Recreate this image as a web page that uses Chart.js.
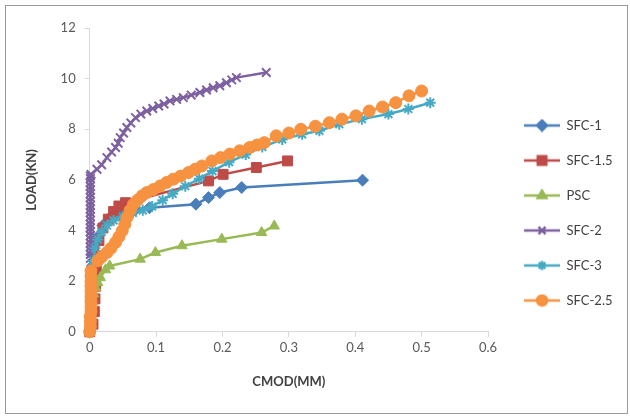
<!DOCTYPE html>
<html>
<head>
<meta charset="utf-8">
<script src="https://cdn.jsdelivr.net/npm/chart.js@4/dist/chart.umd.min.js"></script>
<style>
  body { margin: 0; background: #fff; }
  #wrap { position: relative; width: 630px; height: 419px; }
  #frame { position: absolute; left: 5px; top: 5px; width: 621px; height: 407px; border: 1px solid #9a9a9a; pointer-events: none; }
</style>
</head>
<body>
<div id="wrap">
  <canvas id="load-chart" width="630" height="419"></canvas>
  <div id="frame"></div>
</div>
<script>
// series names, same order as the legend
var seriesNames = ["SFC-1", "SFC-1.5", "PSC", "SFC-2", "SFC-3", "SFC-2.5"];

// CMOD (mm) / LOAD (kN)
var sfc1X = [0, 0.001, 0.002, 0.003, 0.004, 0.005, 0.01, 0.02, 0.03, 0.045, 0.07, 0.09, 0.16, 0.179, 0.196, 0.229, 0.411];
var sfc1Y = [0, 0.6, 1.3, 2.0, 2.6, 3.0, 3.7, 4.2, 4.5, 4.7, 4.85, 4.9, 5.04, 5.3, 5.5, 5.7, 5.99];

var sfc15X = [0, 0.005, 0.007, 0.008, 0.009, 0.01, 0.011, 0.014, 0.02, 0.028, 0.036, 0.044, 0.054, 0.179, 0.201, 0.251, 0.298];
var sfc15Y = [0, 0.3, 0.8, 1.3, 1.8, 2.4, 3.0, 3.6, 4.1, 4.45, 4.75, 4.97, 5.1, 5.96, 6.22, 6.49, 6.75];

var pscX = [0, 0.001, 0.002, 0.004, 0.006, 0.009, 0.012, 0.016, 0.024, 0.03, 0.076, 0.099, 0.139, 0.199, 0.259, 0.278];
var pscY = [0, 0.4, 0.8, 1.2, 1.5, 1.75, 1.95, 2.14, 2.45, 2.6, 2.87, 3.13, 3.40, 3.66, 3.92, 4.18];

var sfc2X = [0, 0, 0, 0.001, 0.001, 0.001, 0.001, 0.001, 0.001, 0.001, 0.001, 0.001, 0.001, 0.001, 0.001, 0.001, 0.001,
             0.001, 0.001, 0.001, 0.001, 0.001, 0.001, 0.001, 0.001, 0.001, 0.002,
             0.011, 0.018, 0.026, 0.033, 0.039, 0.043, 0.046, 0.051, 0.056, 0.062, 0.069, 0.077, 0.086, 0.095,
             0.104, 0.112, 0.121, 0.131, 0.141, 0.153, 0.166, 0.176, 0.186, 0.196, 0.206, 0.214, 0.221, 0.266];
var sfc2Y = [0, 1.0, 2.0, 2.9, 3.05, 3.2, 3.35, 3.5, 3.65, 3.8, 3.95, 4.1, 4.25, 4.4, 4.55, 4.7, 4.85,
             5.0, 5.15, 5.3, 5.45, 5.6, 5.75, 5.9, 6.05, 6.15, 6.22,
             6.42, 6.6, 6.88, 7.1, 7.28, 7.45, 7.67, 7.85, 8.07, 8.25, 8.46, 8.6, 8.72, 8.82,
             8.92, 9.0, 9.12, 9.18, 9.25, 9.35, 9.45, 9.55, 9.64, 9.72, 9.84, 9.95, 10.04, 10.24];

var sfc3X = [0, 0.001, 0.002, 0.003, 0.005, 0.008, 0.012, 0.018, 0.026, 0.036, 0.05, 0.065, 0.08, 0.094, 0.11, 0.125,
             0.144, 0.165, 0.185, 0.21, 0.235, 0.26, 0.29, 0.32, 0.346, 0.376, 0.41, 0.45, 0.48, 0.513];
var sfc3Y = [0, 0.7, 1.4, 2.1, 2.8, 3.3, 3.65, 3.95, 4.2, 4.4, 4.55, 4.7, 4.8, 4.95, 5.2, 5.45,
             5.75, 6.05, 6.35, 6.7, 7.0, 7.3, 7.6, 7.8, 7.94, 8.2, 8.4, 8.6, 8.8, 9.05];

var sfc25X = [0, 0.001, 0.001, 0.001, 0.002, 0.002, 0.002, 0.002, 0.002, 0.002, 0.002, 0.002, 0.002,
              0.012, 0.018, 0.026, 0.032, 0.039, 0.044, 0.049, 0.053, 0.056, 0.061, 0.066, 0.072, 0.079, 0.086,
              0.096, 0.106, 0.116, 0.126, 0.137, 0.149, 0.159, 0.169, 0.184, 0.197, 0.211, 0.226, 0.241, 0.252,
              0.263, 0.281, 0.30, 0.318, 0.34, 0.361, 0.38, 0.401, 0.421, 0.441, 0.461, 0.481, 0.50];
var sfc25Y = [0, 0.2, 0.4, 0.6, 0.8, 1.0, 1.2, 1.4, 1.6, 1.8, 2.0, 2.2, 2.41,
              2.80, 2.95, 3.13, 3.3, 3.53, 3.75, 3.99, 4.25, 4.51, 4.8, 5.04, 5.2, 5.37, 5.50,
              5.62, 5.76, 5.9, 6.03, 6.15, 6.29, 6.42, 6.55, 6.75, 6.88, 7.02, 7.15, 7.28, 7.38,
              7.47, 7.74, 7.85, 8.0, 8.12, 8.26, 8.4, 8.53, 8.72, 8.88, 9.05, 9.32, 9.51];

var xTicks = [0, 0.1, 0.2, 0.3, 0.4, 0.5, 0.6];
var yTicks = [0, 2, 4, 6, 8, 10, 12];

var colors = ["#4A7EBB", "#BE4B48", "#98B954", "#7D60A0", "#46AAC5", "#F69240"];
var styles = ["rectRot", "rect", "triangle", "crossRot", "star", "circle"];
var radii = [6, 7, 6, 6, 5.5, 6];

function zip(xs, ys) {
    var pts = [];
    for (var i = 0; i < xs.length; i++) {
        pts.push({x: xs[i], y: ys[i]});
    }
    return pts;
}

var seriesData = [
    zip(sfc1X, sfc1Y),
    zip(sfc15X, sfc15Y),
    zip(pscX, pscY),
    zip(sfc2X, sfc2Y),
    zip(sfc3X, sfc3Y),
    zip(sfc25X, sfc25Y)
];

// little line + marker picture for the legend, like excel does
// (drawn in the right part of a wider box so the legend pushes the plot left)
var iconW = 50;
function legendIcon(i) {
    var c = document.createElement("canvas");
    c.width = iconW;
    c.height = 14;
    var g = c.getContext("2d");
    g.strokeStyle = colors[i];
    g.lineWidth = 2.5;
    g.beginPath();
    g.moveTo(14, 7);
    g.lineTo(50, 7);
    g.stroke();
    g.fillStyle = colors[i];
    Chart.helpers.drawPoint(g, {pointStyle: styles[i], radius: radii[i] - 1, borderWidth: 1.5, rotation: 0}, 32, 7);
    return c;
}

var datasets = seriesNames.map(function (name, i) {
    var crossy = styles[i] === "crossRot" || styles[i] === "star";
    return {
        label: name,
        data: seriesData[i],
        showLine: true,
        clip: false,
        borderColor: colors[i],
        backgroundColor: colors[i],
        borderWidth: 2.5,
        pointStyle: styles[i],
        pointRadius: radii[i],
        pointBorderWidth: crossy ? 2 : 1,
        pointBackgroundColor: colors[i],
        pointBorderColor: colors[i],
        order: seriesNames.length - i   // later series on top
    };
});

var tickFont = {family: "Lato", size: 13};
var titleFont = {family: "Lato", size: 13, weight: "bold"};

var ctx = document.getElementById("load-chart");
var loadChart = new Chart(ctx, {
    type: 'scatter',
    data: {datasets: datasets},
    options: {
        responsive: false,
        animation: false,
        layout: {padding: {left: 6, top: 28, right: 7.5, bottom: 21}},
        plugins: {
            tooltip: {enabled: false},
            legend: {
                position: 'right',
                labels: {
                    font: {family: "Lato", size: 13},
                    color: "#404040",
                    usePointStyle: true,
                    pointStyleWidth: iconW,
                    padding: 22,
                    sort: function (a, b) { return a.datasetIndex - b.datasetIndex; },
                    generateLabels: function (chart) {
                        var items = Chart.defaults.plugins.legend.labels.generateLabels(chart);
                        items.forEach(function (it) {
                            it.pointStyle = legendIcon(it.datasetIndex);
                        });
                        return items;
                    }
                }
            }
        },
        scales: {
            x: {
                type: 'linear',
                min: 0,
                max: 0.6,
                afterBuildTicks: function (s) { s.ticks = xTicks.map(function (v) { return {value: v}; }); },
                ticks: {font: tickFont, color: "#595959", padding: 3, maxRotation: 0},
                grid: {drawOnChartArea: false, drawTicks: true, tickLength: 5, color: "#d9d9d9"},
                border: {color: "#d9d9d9"},
                title: {display: true, text: "CMOD(MM)", font: titleFont, color: "#404040", padding: {top: 16, bottom: 8}}
            },
            y: {
                min: 0,
                max: 12,
                afterBuildTicks: function (s) { s.ticks = yTicks.map(function (v) { return {value: v}; }); },
                ticks: {font: tickFont, color: "#595959", padding: 9},
                grid: {drawOnChartArea: false, drawTicks: true, tickLength: 5, color: "#d9d9d9"},
                border: {color: "#d9d9d9"},
                title: {display: true, text: "LOAD(KN)", font: titleFont, color: "#404040", padding: {top: 18, bottom: 12}}
            }
        }
    }
});
</script>
</body>
</html>
